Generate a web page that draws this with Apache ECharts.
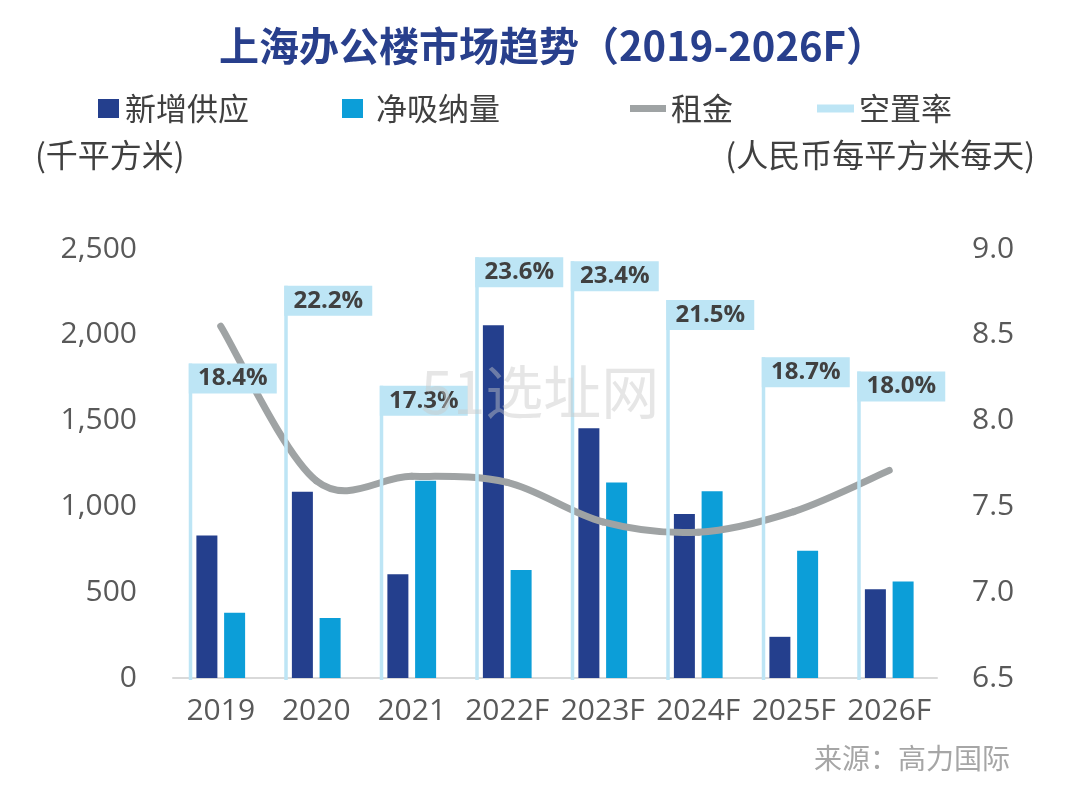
<!DOCTYPE html>
<html>
<head>
<meta charset="utf-8">
<script src="https://cdn.jsdelivr.net/npm/echarts@6/dist/echarts.min.js"></script>
<style>
html,body{margin:0;padding:0;background:#fff;}
#chart{width:1080px;height:797px;}
</style>
</head>
<body>
<div id="chart"></div>
<script>
// ---- data ----
var categories = ['2019', '2020', '2021', '2022F', '2023F', '2024F', '2025F', '2026F'];
var newSupply = [830, 1085, 605, 2055, 1455, 955, 240, 517];      // 千平方米
var netAbsorption = [380, 350, 1150, 630, 1140, 1088, 742, 563];  // 千平方米
var rent = [8.55, 7.65, 7.675, 7.64, 7.41, 7.35, 7.47, 7.71];     // 人民币每平方米每天
var vacancy = [18.4, 22.2, 17.3, 23.6, 23.4, 21.5, 18.7, 18.0];   // %
var leftTickLabels = ['0', '500', '1,000', '1,500', '2,000', '2,500'];
var rightTickLabels = ['6.5', '7.0', '7.5', '8.0', '8.5', '9.0'];

var C_DARK = '#243F8D', C_CYAN = '#0C9ED8', C_GRAY = '#9FA3A4', C_LIGHT = '#BDE5F5';
var CJK = '"Noto Sans CJK SC", sans-serif';
var NUM = '"Open Sans", "Noto Sans", sans-serif';
var VAC_MIN = 3, VAC_MAX = 24;

var chart = echarts.init(document.getElementById('chart'));

var vacData = vacancy.map(function (v, i) { return [i, v]; });
var rentData = rent.map(function (v, i) { return [i, v]; });

var option = {
  animation: false,
  backgroundColor: '#ffffff',
  title: {
    text: '上海办公楼市场趋势（2019-2026F）',
    left: 214,
    top: 21,
    textStyle: { fontFamily: CJK, fontSize: 40, fontWeight: 'bold', color: '#283F8C' }
  },
  legend: [
    { left: 93, top: 88, itemWidth: 21, itemHeight: 19, icon: 'rect',
      textStyle: { fontFamily: CJK, fontSize: 31, color: '#404040', padding: [0, 0, 0, 1] },
      data: [{ name: '新增供应', itemStyle: { color: C_DARK } }] },
    { left: 337, top: 88, itemWidth: 21, itemHeight: 19, icon: 'rect',
      textStyle: { fontFamily: CJK, fontSize: 31, color: '#404040', padding: [0, 0, 0, 8] },
      data: [{ name: '净吸纳量', itemStyle: { color: C_CYAN } }] },
    { left: 625, top: 88, itemWidth: 36, itemHeight: 7, icon: 'rect',
      textStyle: { fontFamily: CJK, fontSize: 31, color: '#404040' },
      data: [{ name: '租金', icon: 'rect', itemStyle: { color: C_GRAY } }] },
    { left: 812, top: 88, itemWidth: 37, itemHeight: 8, icon: 'rect',
      textStyle: { fontFamily: CJK, fontSize: 31, color: '#404040' },
      data: [{ name: '空置率', icon: 'rect', itemStyle: { color: C_LIGHT } }] }
  ],
  grid: { left: 173, right: 143, top: 249, bottom: 119, containLabel: false },
  xAxis: {
    type: 'category',
    data: categories,
    axisLine: { show: true, lineStyle: { color: '#D9D9D9', width: 2 } },
    axisTick: { show: false },
    axisLabel: { fontFamily: NUM, fontSize: 30, color: '#595959', margin: 18, interval: 0 }
  },
  yAxis: [
    { type: 'value', min: 0, max: 2500, interval: 500,
      axisLine: { show: false }, axisTick: { show: false }, splitLine: { show: false },
      axisLabel: { fontFamily: NUM, fontSize: 30, color: '#595959', margin: 36,
        formatter: function (v, i) { return leftTickLabels[i]; } } },
    { type: 'value', min: 6.5, max: 9, interval: 0.5, position: 'right',
      axisLine: { show: false }, axisTick: { show: false }, splitLine: { show: false },
      axisLabel: { fontFamily: NUM, fontSize: 30, color: '#595959', margin: 35,
        formatter: function (v, i) { return rightTickLabels[i]; } } },
    { type: 'value', min: VAC_MIN, max: VAC_MAX, show: false, position: 'right', offset: 0,
      axisLine: { show: false }, splitLine: { show: false }, axisLabel: { show: false } }
  ],
  series: [
    { name: '新增供应', type: 'bar', yAxisIndex: 0, data: newSupply,
      barWidth: 21, barGap: '32%', itemStyle: { color: C_DARK }, z: 3 },
    { name: '净吸纳量', type: 'bar', yAxisIndex: 0, data: netAbsorption,
      barWidth: 21, barGap: '32%', itemStyle: { color: C_CYAN }, z: 3 },
    { name: '租金', type: 'custom', yAxisIndex: 1, data: rentData, z: 4,
      encode: { x: 0, y: 1 },
      itemStyle: { color: C_GRAY },
      renderItem: function (params, api) {
        var i = params.dataIndex;
        var n = rent.length;
        if (i >= n - 1) return { type: 'group', children: [] };
        var p = function (k) { k = Math.max(0, Math.min(n - 1, k)); return api.coord([k, rent[k]]); };
        var p0 = p(i - 1), p1 = p(i), p2 = p(i + 1), p3 = p(i + 2);
        var t = 1 / 6;
        return {
          type: 'bezierCurve',
          shape: {
            x1: p1[0], y1: p1[1],
            cpx1: p1[0] + (p2[0] - p0[0]) * t, cpy1: p1[1] + (p2[1] - p0[1]) * t,
            cpx2: p2[0] - (p3[0] - p1[0]) * t, cpy2: p2[1] - (p3[1] - p1[1]) * t,
            x2: p2[0], y2: p2[1]
          },
          style: { stroke: C_GRAY, lineWidth: 7, fill: null, lineCap: 'round' }
        };
      }
    },
    { name: '空置率', type: 'custom', yAxisIndex: 2, data: vacData, z: 5,
      encode: { x: 0, y: 1 },
      itemStyle: { color: C_LIGHT },
      renderItem: function (params, api) {
        var idx = api.value(0), v = api.value(1);
        var top = api.coord([idx, v]);
        var base = api.coord([idx, VAC_MIN]);
        var band = api.size([1, 0])[0];
        var x = top[0] - band * 0.335;
        return {
          type: 'group',
          children: [
            { type: 'rect', shape: { x: x, y: top[1], width: 3.5, height: base[1] - top[1] + 2 },
              style: { fill: C_LIGHT } },
            { type: 'rect', shape: { x: x, y: top[1], width: 88, height: 30 },
              style: { fill: C_LIGHT } },
            { type: 'text', x: x + 44, y: top[1] + 15,
              style: { text: v.toFixed(1) + '%', align: 'center', verticalAlign: 'middle',
                font: 'bold 24px "Open Sans", sans-serif', fill: '#404040' } }
          ]
        };
      }
    }
  ],
  graphic: [
    { type: 'text', left: 35, top: 139,
      style: { text: '(千平方米)', font: '32px "Noto Sans CJK SC", sans-serif', fill: '#404040' } },
    { type: 'text', right: 45, top: 139,
      style: { text: '(人民币每平方米每天)', font: '32px "Noto Sans CJK SC", sans-serif', fill: '#404040' } },
    { type: 'text', right: 70, top: 744,
      style: { text: '来源：高力国际', font: '28px "Noto Sans CJK SC", sans-serif', fill: '#A6A6A6' } },
    { type: 'text', left: 'center', top: 363, z: 100,
      style: { text: '51选址网', font: '58px "Noto Sans CJK SC", sans-serif', fill: 'rgba(200,200,200,0.45)' } }
  ]
};
chart.setOption(option);
</script>
</body>
</html>
